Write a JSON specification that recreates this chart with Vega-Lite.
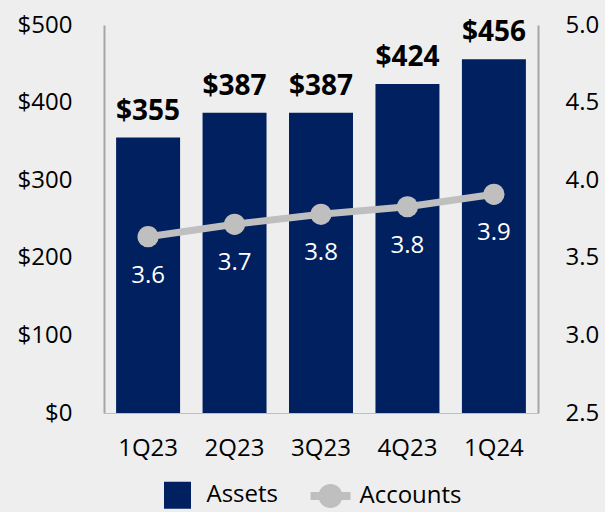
{
  "$schema": "https://vega.github.io/schema/vega-lite/v6.json",
  "width": 434,
  "height": 388,
  "autosize": {"type": "none"},
  "padding": {"left": 104, "top": 25, "right": 67, "bottom": 99},
  "background": "#eeeeee",
  "config": {"view": {"stroke": null}, "font": "Open Sans"},
  "data": {
    "values": [
      {"quarter": "1Q23", "assets": 355, "accounts": 3.636},
      {"quarter": "2Q23", "assets": 387, "accounts": 3.716},
      {"quarter": "3Q23", "assets": 387, "accounts": 3.78},
      {"quarter": "4Q23", "assets": 424, "accounts": 3.829},
      {"quarter": "1Q24", "assets": 456, "accounts": 3.909}
    ]
  },
  "encoding": {
    "x": {
      "field": "quarter",
      "type": "nominal",
      "sort": null,
      "scale": {"paddingInner": 0.26, "paddingOuter": 0.14},
      "axis": {
        "title": null,
        "labelAngle": 0,
        "labelFontSize": 24,
        "labelColor": "#000000",
        "ticks": false,
        "tickSize": 0,
        "labelPadding": 23,
        "labelBaseline": "top",
        "domainColor": "#bfbfbf",
        "domainWidth": 1
      }
    }
  },
  "layer": [
    {
      "layer": [
        {
          "mark": {"type": "bar", "color": "#002060"},
          "encoding": {
            "y": {
              "field": "assets",
              "type": "quantitative",
              "scale": {"domain": [0, 500], "nice": false},
              "axis": {
                "title": null,
                "values": [0, 100, 200, 300, 400, 500],
                "format": "$,.0f",
                "labelFontSize": 24,
                "labelColor": "#000000",
                "ticks": false,
                "tickSize": 0,
                "grid": false,
                "labelPadding": 32,
                "domainColor": "#a6a6a6",
                "domainWidth": 2
              }
            },
            "color": {
              "datum": "Assets",
              "type": "nominal",
              "scale": {"domain": ["Assets", "Accounts"], "range": ["#002060", "#bfbfbf"]},
              "legend": {
                "title": null,
                "orient": "none",
                "legendX": 53.5,
                "legendY": 450,
                "direction": "horizontal",
                "labelFontSize": 24,
                "labelColor": "#000000",
                "symbolSize": 1600,
                "labelOffset": 9,
                "columnPadding": 32,
                "encode": {
                  "symbols": {
                    "update": {
                      "shape": {"signal": "datum.value === 'Assets' ? 'M-0.675,-0.675H0.675V0.675H-0.675Z' : 'M-1,-0.2H1V0.2H-1Z M-0.6,0A0.6,0.6 0 1,1 0.6,0A0.6,0.6 0 1,1 -0.6,0Z'"},
                      "fill": {"signal": "datum.value === 'Assets' ? '#002060' : '#bfbfbf'"},
                      "stroke": {"value": "transparent"},
                      "strokeWidth": {"value": 0},
                      "opacity": {"value": 1},
                      "fillOpacity": {"value": 1}
                    }
                  }
                }
              }
            }
          }
        },
        {
          "mark": {"type": "text", "fontWeight": "bold", "fontSize": 28, "baseline": "alphabetic", "dy": -18, "color": "#000000"},
          "encoding": {
            "y": {"field": "assets", "type": "quantitative"},
            "text": {"field": "assets", "type": "quantitative", "format": "$,.0f"}
          }
        }
      ]
    },
    {
      "layer": [
        {
          "mark": {"type": "line", "color": "#bfbfbf", "strokeWidth": 7},
          "encoding": {
            "y": {
              "field": "accounts",
              "type": "quantitative",
              "scale": {"domain": [2.5, 5], "nice": false, "zero": false},
              "axis": {
                "orient": "right",
                "title": null,
                "values": [2.5, 3, 3.5, 4, 4.5, 5],
                "format": ".1f",
                "labelFontSize": 24,
                "labelColor": "#000000",
                "ticks": false,
                "tickSize": 0,
                "grid": false,
                "labelPadding": 27,
                "domainColor": "#a6a6a6",
                "domainWidth": 2
              }
            },
            "color": {"datum": "Accounts", "type": "nominal"}
          }
        },
        {
          "mark": {"type": "point", "filled": true, "size": 450, "color": "#bfbfbf", "opacity": 1},
          "encoding": {
            "y": {"field": "accounts", "type": "quantitative"}
          }
        },
        {
          "mark": {"type": "text", "fontSize": 24, "baseline": "alphabetic", "dy": 46, "color": "#ffffff"},
          "encoding": {
            "y": {"field": "accounts", "type": "quantitative"},
            "text": {"field": "accounts", "type": "quantitative", "format": ".1f"}
          }
        }
      ]
    }
  ],
  "resolve": {"scale": {"y": "independent"}}
}
